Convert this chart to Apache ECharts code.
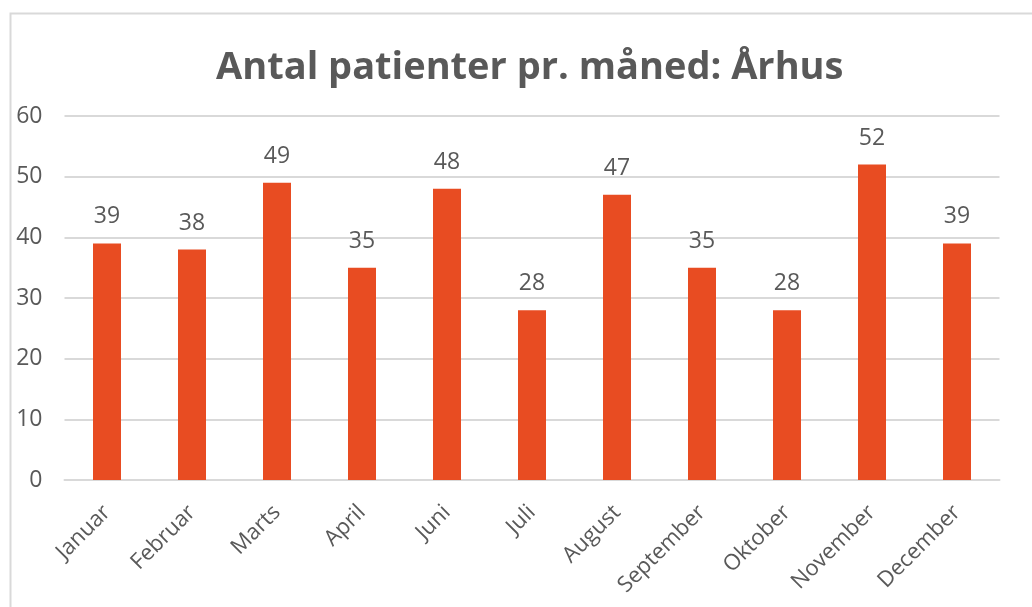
<!DOCTYPE html>
<html><head><meta charset="utf-8">
<script src="https://cdn.jsdelivr.net/npm/echarts@6/dist/echarts.min.js"></script>
<style>html,body{margin:0;padding:0;background:#fff}#c{width:1032px;height:607px}</style>
</head><body><div id="c"></div>
<script>
const categories = ['Januar','Februar','Marts','April','Juni','Juli','August','September','Oktober','November','December'];
const values = [39,38,49,35,48,28,47,35,28,52,39];
const yTicks = [0,10,20,30,40,50,60];

const chart = echarts.init(document.getElementById('c'), null, {renderer:'canvas'});
chart.setOption({
  animation:false,
  backgroundColor:'#fff',
  graphic:[{type:'rect', shape:{x:10.5,y:13.5,width:1100,height:700}, style:{fill:'none', stroke:'#d9d9d9', lineWidth:2}, silent:true}],
  title:{text:'Antal patienter pr. måned: Århus', left:211, top:44,
    textStyle:{fontFamily:'Open Sans', fontWeight:'bold', fontSize:38, color:'#595959'}},
  grid:{left:64.5, right:32.5, top:116, bottom:127, containLabel:false},
  xAxis:{type:'category', data:categories,
    axisLine:{lineStyle:{color:'#d9d9d9', width:2}}, axisTick:{show:false},
    axisLabel:{rotate:45, color:'#595959', fontFamily:'Open Sans', fontSize:22, margin:29, interval:0}},
  yAxis:{type:'value', min:yTicks[0], max:yTicks[yTicks.length-1], interval:10,
    axisLine:{show:false}, axisTick:{show:false},
    splitLine:{lineStyle:{color:'#d9d9d9', width:2}},
    axisLabel:{color:'#595959', fontFamily:'Open Sans', fontSize:23, margin:22}},
  series:[{type:'bar', data:values, barWidth:28, itemStyle:{color:'#E84C22'},
    label:{show:true, position:'top', distance:15, color:'#595959', fontFamily:'Open Sans', fontSize:23}}]
});
</script></body></html>
